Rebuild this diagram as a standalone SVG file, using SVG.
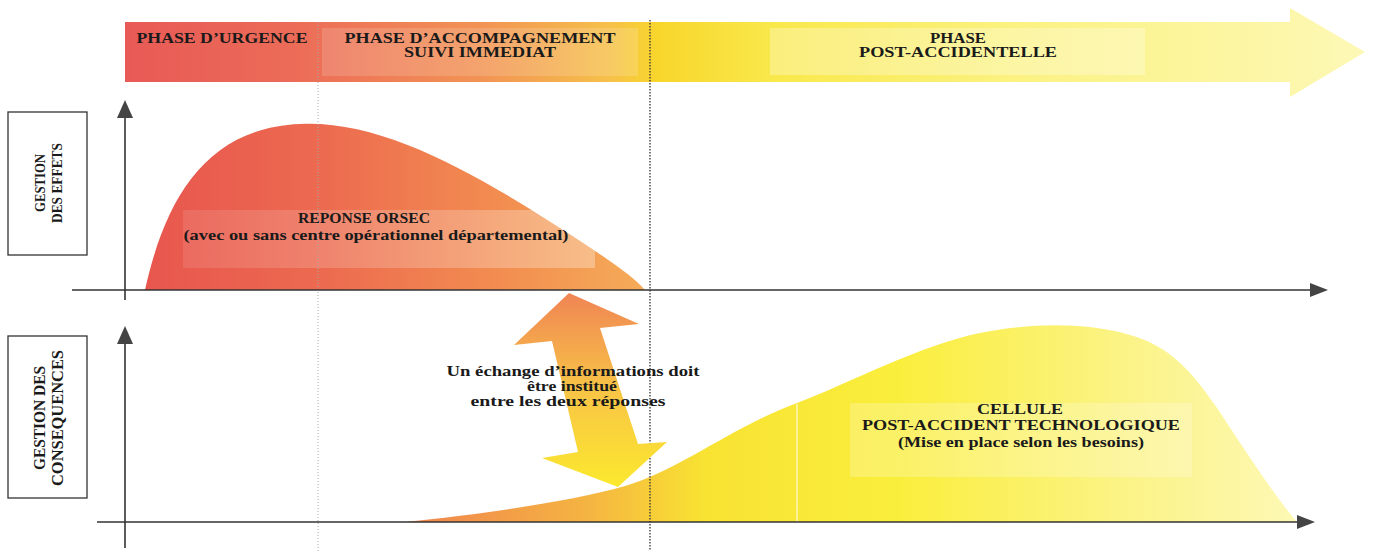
<svg xmlns="http://www.w3.org/2000/svg" width="1376" height="551" viewBox="0 0 1376 551">
<defs>
<linearGradient id="gTop" x1="125" y1="0" x2="1365" y2="0" gradientUnits="userSpaceOnUse">
<stop offset="0" stop-color="#e85a56"/>
<stop offset="0.14" stop-color="#ec6c58"/>
<stop offset="0.29" stop-color="#f29454"/>
<stop offset="0.39" stop-color="#f6c04a"/>
<stop offset="0.43" stop-color="#f8d62c"/>
<stop offset="0.52" stop-color="#f9e84a"/>
<stop offset="0.72" stop-color="#fbf282"/>
<stop offset="1" stop-color="#fdf8b6"/>
</linearGradient>
<linearGradient id="gUp" x1="145" y1="0" x2="645" y2="0" gradientUnits="userSpaceOnUse">
<stop offset="0" stop-color="#e8564e"/>
<stop offset="0.35" stop-color="#ec6a50"/>
<stop offset="0.7" stop-color="#f28c50"/>
<stop offset="1" stop-color="#f5ac58"/>
</linearGradient>
<linearGradient id="gLow" x1="410" y1="0" x2="1295" y2="0" gradientUnits="userSpaceOnUse">
<stop offset="0" stop-color="#f0844e"/>
<stop offset="0.2" stop-color="#f5b442"/>
<stop offset="0.33" stop-color="#f8e232"/>
<stop offset="0.55" stop-color="#faee3c"/>
<stop offset="0.8" stop-color="#fbf384"/>
<stop offset="1" stop-color="#fdf8b4"/>
</linearGradient>
<linearGradient id="gDbl" x1="0" y1="295" x2="0" y2="485" gradientUnits="userSpaceOnUse">
<stop offset="0" stop-color="#f08654"/>
<stop offset="0.5" stop-color="#f8c446"/>
<stop offset="1" stop-color="#fbe82e"/>
</linearGradient>
<linearGradient id="gBand" x1="0" y1="0" x2="1" y2="0">
<stop offset="0" stop-color="#ffffff" stop-opacity="0.1"/>
<stop offset="1" stop-color="#ffffff" stop-opacity="0.3"/>
</linearGradient>
</defs>
<style>
.t{font-family:"Liberation Serif","Times New Roman",serif;font-weight:bold;font-size:15px;fill:#1a1a1a;text-anchor:middle}
.v1{font-size:14px}
.v2{font-size:16px}
.ax{stroke:#333;stroke-width:1.6;fill:none}
.ah{fill:#444}
.box{fill:#fff;stroke:#333;stroke-width:1.3}
</style>
<rect width="1376" height="551" fill="#fff"/>

<g id="timeline">
<polygon points="125,22 1290,22 1290,8 1365,52 1290,97 1290,82 125,82" fill="url(#gTop)"/>
<rect x="322" y="28" width="316" height="48" fill="#fff" opacity="0.15"/>
<rect x="770" y="28" width="375" height="47" fill="#fff" opacity="0.28"/>
<text class="t" x="222" y="43" textLength="171" lengthAdjust="spacingAndGlyphs">PHASE D’URGENCE</text>
<text class="t" x="480" y="43" textLength="271" lengthAdjust="spacingAndGlyphs">PHASE D’ACCOMPAGNEMENT</text>
<text class="t" x="480" y="57" textLength="152" lengthAdjust="spacingAndGlyphs">SUIVI IMMEDIAT</text>
<text class="t" x="958" y="43" textLength="56" lengthAdjust="spacingAndGlyphs">PHASE</text>
<text class="t" x="958" y="57" textLength="198" lengthAdjust="spacingAndGlyphs">POST-ACCIDENTELLE</text>
</g>

<g id="reponse-orsec">
<path d="M145,290 C165,200 205,128 300,124 C380,120 470,170 560,228 C610,260 635,278 645,290 Z" fill="url(#gUp)"/>
<rect x="183" y="210" width="412" height="58" fill="url(#gBand)"/>
<text class="t" x="364" y="223" textLength="132" lengthAdjust="spacingAndGlyphs">REPONSE ORSEC</text>
<text class="t" x="376" y="240" textLength="385" lengthAdjust="spacingAndGlyphs">(avec ou sans centre opérationnel départemental)</text>
</g>

<g id="cellule">
<path d="M405,522 C500,512 575,500 625,486 C680,470 730,428 797,403 C850,383 920,345 980,333 C1030,323 1085,322 1130,335 C1170,346 1192,372 1215,405 C1242,445 1270,490 1297,522 Z" fill="url(#gLow)"/>
<line x1="797" y1="404" x2="797" y2="522" stroke="#fff" stroke-width="1.2" opacity="0.8"/>
<rect x="850" y="403" width="342" height="74" fill="#fff" opacity="0.22"/>
<text class="t" x="1020" y="414" textLength="86" lengthAdjust="spacingAndGlyphs">CELLULE</text>
<text class="t" x="1021" y="430" textLength="318" lengthAdjust="spacingAndGlyphs">POST-ACCIDENT TECHNOLOGIQUE</text>
<text class="t" x="1021" y="447" textLength="246" lengthAdjust="spacingAndGlyphs">(Mise en place selon les besoins)</text>
</g>

<g id="label-effets">
<rect class="box" x="8" y="112" width="79" height="143"/>
<text class="t v1" transform="translate(45,183) rotate(-90)" textLength="58" lengthAdjust="spacingAndGlyphs">GESTION</text>
<text class="t v1" transform="translate(62,183) rotate(-90)" textLength="80" lengthAdjust="spacingAndGlyphs">DES EFFETS</text>
</g>

<g id="label-consequences">
<rect class="box" x="8" y="336" width="79" height="162"/>
<text class="t v2" transform="translate(45,418) rotate(-90)" textLength="104" lengthAdjust="spacingAndGlyphs">GESTION DES</text>
<text class="t v2" transform="translate(63,418) rotate(-90)" textLength="136" lengthAdjust="spacingAndGlyphs">CONSEQUENCES</text>
</g>

<g id="connectors">
<line x1="318" y1="22" x2="318" y2="551" stroke="#aaa" stroke-width="1" stroke-dasharray="1,2"/>
<line x1="650" y1="20" x2="650" y2="551" stroke="#333" stroke-width="1.3" stroke-dasharray="1.5,1.5"/>
<line class="ax" x1="125" y1="115" x2="125" y2="300"/>
<polygon class="ah" points="125,100 117,118 133,118"/>
<line class="ax" x1="72" y1="290" x2="1312" y2="290"/>
<polygon class="ah" points="1328,290 1310,283 1310,297"/>
<line class="ax" x1="125" y1="340" x2="125" y2="548"/>
<polygon class="ah" points="125,326 117,344 133,344"/>
<line class="ax" x1="97" y1="522" x2="1300" y2="522"/>
<polygon class="ah" points="1315,522 1297,515 1297,529"/>
</g>

<g id="echange">
<polygon points="569,293 639,324 600,328 638,444 667,442 618,487 542,458 578,452 552,341 514,345" fill="url(#gDbl)"/>
<text class="t" x="573" y="376" textLength="253" lengthAdjust="spacingAndGlyphs">Un  échange d’informations doit</text>
<text class="t" x="572" y="391" textLength="90" lengthAdjust="spacingAndGlyphs">être institué</text>
<text class="t" x="568" y="406" textLength="195" lengthAdjust="spacingAndGlyphs">entre les deux réponses</text>
</g>
</svg>
